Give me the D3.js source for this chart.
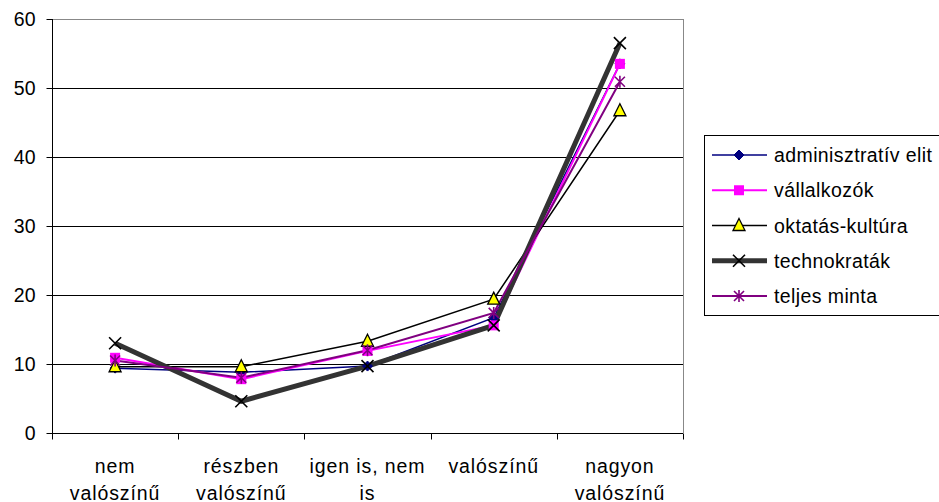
<!DOCTYPE html>
<html><head><meta charset="utf-8">
<script src="https://cdn.jsdelivr.net/npm/d3@7"></script>
<style>body{margin:0;background:#fff}svg{display:block;font-family:"Liberation Sans",Arial,sans-serif}</style>
</head><body><svg id="c" width="939" height="502"></svg>
<script>
const categories = [["nem","valószínű"],["részben","valószínű"],["igen is, nem","is"],["valószínű"],["nagyon","valószínű"]];
const seriesNames = ["adminisztratív elit","vállalkozók","oktatás-kultúra","technokraták","teljes minta"];
const adminisztrativ = [9.4, 8.8, 9.7, 16.7, 53.5];
const vallalkozok = [10.9, 7.8, 11.9, 15.6, 53.5];
const oktatas = [9.6, 9.6, 13.3, 19.4, 46.7];
const technokratak = [13.0, 4.6, 9.7, 15.6, 56.5];
const teljes = [10.5, 8.0, 12.0, 17.4, 50.9];
const yTicks = [0,10,20,30,40,50,60];

const svg = d3.select("#c");
const L=52, R=683, T=19, B=433;
const FS=19.5;
const x = d3.scaleBand().domain(d3.range(5)).range([L,R]);
const y = d3.scaleLinear().domain([0,60]).range([B,T]);
const cx = i => x(i)+x.bandwidth()/2;

// gridlines
svg.append("g").selectAll("line").data(yTicks.filter(d=>d>0)).join("line")
  .attr("x1",L).attr("x2",R).attr("y1",d=>Math.round(y(d))+0.5).attr("y2",d=>Math.round(y(d))+0.5)
  .attr("stroke",d=>d===60?"#888":"#000").attr("stroke-width",1);
svg.append("line").attr("x1",R+0.5).attr("x2",R+0.5).attr("y1",T).attr("y2",B).attr("stroke","#888");

// axes
const ya = svg.append("g").attr("transform",`translate(${L+0.5},0)`)
  .call(d3.axisLeft(y).tickValues(yTicks).tickSize(6).tickPadding(11));
ya.select(".domain").attr("stroke","#000").attr("d",`M0,${T}V${B}`);
ya.selectAll("text").attr("font-size",FS).attr("fill","#000").attr("font-family","Liberation Sans, Arial");
const xa = svg.append("g").attr("transform",`translate(0,${Math.round(B)+0.5})`);
xa.append("line").attr("x1",L).attr("x2",R).attr("stroke","#000");
xa.selectAll("line.t").data(d3.range(6)).join("line").attr("class","t")
  .attr("x1",i=>Math.round(L+i*x.step())+0.5).attr("x2",i=>Math.round(L+i*x.step())+0.5).attr("y1",0).attr("y2",6).attr("stroke","#000");
xa.selectAll("text").data(categories).join("text")
  .attr("text-anchor","middle").attr("font-size",FS).attr("fill","#000").attr("letter-spacing",0.9)
  .each(function(d,i){
    const t=d3.select(this);
    d.forEach((s,k)=>t.append("tspan").attr("x",cx(i)).attr("y",39+k*27).text(s));
  });

const series = [
  {name:seriesNames[0], vals:adminisztrativ, color:"#000080", w:1.5, marker:"diamond"},
  {name:seriesNames[1], vals:vallalkozok, color:"#ff00ff", w:2, marker:"square"},
  {name:seriesNames[2], vals:oktatas, color:"#000", w:1.5, marker:"triangle"},
  {name:seriesNames[3], vals:technokratak, color:"#333", w:5, marker:"x"},
  {name:seriesNames[4], vals:teljes, color:"#800080", w:2, marker:"star"}
];
const line = d3.line().x((d,i)=>cx(i)).y(d=>y(d));

function marker(g, type, px, py){
  if(type==="diamond"){
    g.append("path").attr("d",`M${px},${py-5}L${px+5},${py}L${px},${py+5}L${px-5},${py}Z`).attr("fill","#000080").attr("stroke","#000080");
  } else if(type==="square"){
    g.append("rect").attr("x",px-5).attr("y",py-5).attr("width",10).attr("height",10).attr("fill","#ff00ff");
  } else if(type==="triangle"){
    g.append("path").attr("d",`M${px},${py-7}L${px+6},${py+5}L${px-6},${py+5}Z`).attr("fill","#ffff00").attr("stroke","#000").attr("stroke-width",1.3);
  } else if(type==="x"){
    g.append("path").attr("d",`M${px-6},${py-6}L${px+6},${py+6}M${px+6},${py-6}L${px-6},${py+6}`).attr("stroke","#000").attr("stroke-width",1.6);
  } else if(type==="star"){
    g.append("path").attr("d",`M${px-5},${py-5}L${px+5},${py+5}M${px+5},${py-5}L${px-5},${py+5}M${px},${py-6}L${px},${py+6}`).attr("stroke","#800080").attr("stroke-width",1.6);
  }
}

series.forEach(s=>{
  svg.append("path").datum(s.vals).attr("d",line).attr("fill","none").attr("stroke",s.color).attr("stroke-width",s.w).attr("stroke-linejoin","miter");
});
series.forEach(s=>{
  const g=svg.append("g");
  s.vals.forEach((v,i)=>marker(g,s.marker,cx(i),y(v)));
});

// legend
const lg = svg.append("g");
lg.append("rect").attr("x",704.5).attr("y",135.5).attr("width",240).attr("height",180).attr("fill","#fff").attr("stroke","#000");
const ly = d3.scalePoint().domain(seriesNames).range([155,296]);
series.forEach(s=>{
  const yy=ly(s.name);
  lg.append("line").attr("x1",712).attr("x2",767).attr("y1",yy).attr("y2",yy).attr("stroke",s.color).attr("stroke-width",s.w);
  marker(lg,s.marker,739,yy);
  lg.append("text").attr("x",774).attr("y",yy+7).attr("font-size",FS).attr("letter-spacing",0.4).attr("fill","#000").text(s.name);
});
</script></body></html>
